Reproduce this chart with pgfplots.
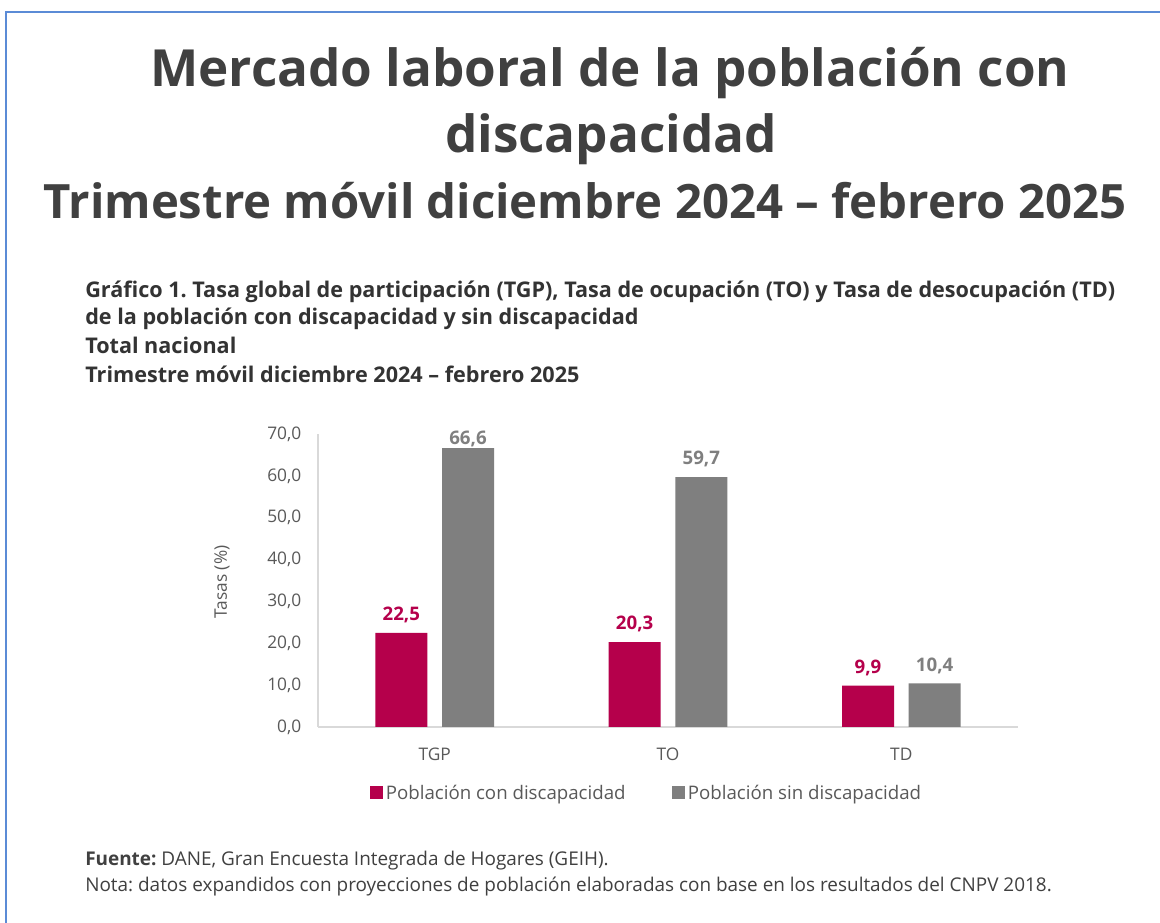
\documentclass[border=0pt]{standalone}
\usepackage{fontspec}
\setmainfont{Open Sans}
\usepackage{pgfplots}
\pgfplotsset{compat=1.18}
\frenchspacing
\definecolor{cRed}{HTML}{B5004B}
\definecolor{cGray}{HTML}{7F7F7F}
\definecolor{cTick}{HTML}{595959}
\definecolor{cTitle}{HTML}{404040}
\definecolor{cSub}{HTML}{333333}
\definecolor{cBorder}{HTML}{5B8BD6}
\pgfplotstableread{
x y dy
0 22.5 0
1 20.3 0
2 9.9 0
}\conDisc
\pgfplotstableread{
x y dy
0 66.6 -6.75
1 59.7 0
2 10.4 0
}\sinDisc
\begin{document}
\begin{tikzpicture}[x=0.75pt,y=0.75pt]
\fill[white] (0,0) rectangle (1160,923);
\path[use as bounding box] (0,0) rectangle (1160,923);
\draw[cBorder, line width=1.5pt] (5.5,0) -- (5.5,911) -- (1160,911);
% titles
\begin{scope}[every node/.style={anchor=base, text=cTitle, inner sep=0pt, font=\fontsize{38.4pt}{42pt}\selectfont\bfseries}]
\node at (610,836) {Mercado laboral de la población con};
\node at (611,770) {discapacidad};
\node[font=\fontsize{35.5pt}{40pt}\selectfont\bfseries] at (585,704) {Trimestre móvil diciembre 2024 – febrero 2025};
\end{scope}
\begin{scope}[every node/.style={anchor=base west, text=cSub, inner sep=0pt, font=\fontsize{16.2pt}{19pt}\selectfont\bfseries}]
\node at (85,625) {Gráfico 1. Tasa global de participación (TGP), Tasa de ocupación (TO) y Tasa de desocupación (TD)};
\node at (85,598) {de la población con discapacidad y sin discapacidad};
\node at (85,569) {Total nacional};
\node at (85,540) {Trimestre móvil diciembre 2024 – febrero 2025};
\end{scope}
\begin{scope}[every node/.style={anchor=base west, text=cTitle, inner sep=0pt, font=\fontsize{14.2pt}{17pt}\selectfont}]
\node at (85,57) {\textbf{Fuente:} DANE, Gran Encuesta Integrada de Hogares (GEIH).};
\node at (85,31) {Nota: datos expandidos con proyecciones de población elaboradas con base en los resultados del CNPV 2018.};
\end{scope}
\node[rotate=90, text=cTick, font=\fontsize{13pt}{15pt}\selectfont, inner sep=0pt] at (222,341) {Tasas (\%)};
\begin{axis}[
  at={(238.5pt,147pt)}, anchor=south west,
  scale only axis, width=525pt, height=219.75pt,
  xmin=-0.5, xmax=2.5, ymin=0, ymax=70,
  axis x line*=bottom, axis y line*=left,
  axis line style={draw=black!15, line width=1pt, -},
  xtick={0,1,2}, xticklabels={TGP,TO,TD},
  ytick={0,10,...,70},
  yticklabels={{0,0},{10,0},{20,0},{30,0},{40,0},{50,0},{60,0},{70,0}},
  major tick length=0pt,
  ticklabel style={text=cTick, font=\fontsize{13pt}{15pt}\selectfont},
  yticklabel style={xshift=-9pt},
  xticklabel style={yshift=-12pt},
  ybar, bar width=39pt,
  /pgf/number format/assume math mode=true,
  /pgf/number format/.cd, use comma, fixed, fixed zerofill, precision=1, /pgfplots/.cd,
  nodes near coords,
  visualization depends on={\thisrow{dy} \as \labdy},
  every node near coord/.append style={font=\bfseries\fontsize{14pt}{16pt}\selectfont, anchor=south, yshift=4pt, yshift=\labdy pt},
  legend style={at={(0.47,-0.225)}, anchor=center, draw=none, fill=none,
    legend columns=2, font=\fontsize{14pt}{16pt}\selectfont, text=cTick,
    /tikz/every even column/.append style={column sep=33pt}},
  legend cell align=left,
  legend image code/.code={\fill[#1] (0pt,-4.9pt) rectangle (9.75pt,4.9pt);},
  clip=false,
]
\addplot[fill=cRed, draw=none, bar shift=-25pt, nodes near coords style={text=cRed}] table[x=x, y=y] {\conDisc};
\addplot[fill=cGray, draw=none, bar shift=25pt, nodes near coords style={text=cGray}] table[x=x, y=y] {\sinDisc};
\legend{Población con discapacidad, Población sin discapacidad}
\end{axis}
\end{tikzpicture}
\end{document}
